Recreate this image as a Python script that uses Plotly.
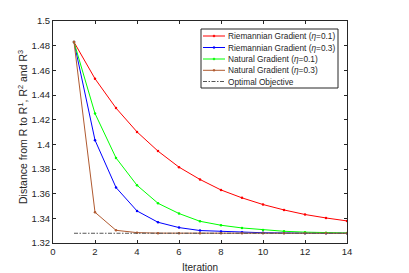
import plotly.graph_objects as go

iterations = list(range(1, 15))
rg_01 = [1.4829, 1.4532, 1.4294, 1.4101, 1.3945, 1.3815, 1.3715, 1.3630, 1.3566, 1.3512, 1.3468, 1.3431, 1.3403, 1.3379]
rg_03 = [1.4829, 1.4034, 1.3650, 1.3460, 1.3368, 1.3325, 1.3301, 1.3293, 1.3287, 1.3283, 1.3281, 1.3280, 1.3279, 1.3279]
ng_01 = [1.4829, 1.4250, 1.3890, 1.3668, 1.3522, 1.3439, 1.3376, 1.3344, 1.3322, 1.3306, 1.3295, 1.3288, 1.3284, 1.3281]
ng_03 = [1.4829, 1.3449, 1.3303, 1.3284, 1.3280, 1.3279, 1.3279, 1.3279, 1.3279, 1.3279, 1.3279, 1.3279, 1.3279, 1.3279]
optimal_x = [1, 14]
optimal_y = [1.3279, 1.3279]

series_names = ["Riemannian Gradient (<i>η</i>=0.1)", "Riemannian Gradient (<i>η</i>=0.3)",
                "Natural Gradient (<i>η</i>=0.1)", "Natural Gradient (<i>η</i>=0.3)", "Optimal Objective"]
series_colors = ["#ff0000", "#0000ff", "#00ff00", "#b05a30", "#555555"]
series_values = [rg_01, rg_03, ng_01, ng_03]

x_ticks = [0, 2, 4, 6, 8, 10, 12, 14]
y_ticks = [1.32, 1.34, 1.36, 1.38, 1.40, 1.42, 1.44, 1.46, 1.48, 1.50]
y_ticktext = ["1.32", "1.34", "1.36", "1.38", "1.4", "1.42", "1.44", "1.46", "1.48", "1.5"]

W, H = 409, 273
L, R, T, B = 53, 347, 21, 243
OPT_DASH = "4px,1.5px,1.5px,1.5px"

fig = go.Figure()
for name, color, vals in zip(series_names, series_colors, series_values):
    fig.add_trace(go.Scatter(x=iterations, y=vals, mode="lines+markers", name=name,
                             line=dict(color=color, width=1), marker=dict(color=color, size=2.5),
                             showlegend=False))
fig.add_trace(go.Scatter(x=optimal_x, y=optimal_y, mode="lines", name=series_names[4],
                         line=dict(color=series_colors[4], width=1, dash=OPT_DASH), showlegend=False))

def px(xpix):
    return (xpix - L) / (R - L)

def py(ypix):
    return (B - ypix) / (B - T)

shapes = []
annotations = []
# legend box
shapes.append(dict(type="rect", xref="paper", yref="paper", x0=px(201), x1=px(338), y0=py(88), y1=py(29),
                   line=dict(color="#262626", width=1), fillcolor="white", layer="above"))
row_y = [36, 47.5, 59, 70.3, 81.5]
for i, (name, color) in enumerate(zip(series_names, series_colors)):
    yy = py(row_y[i])
    shapes.append(dict(type="line", xref="paper", yref="paper", x0=px(203), x1=px(225), y0=yy, y1=yy,
                       line=dict(color=color, width=1, dash=OPT_DASH if i == 4 else "solid"), layer="above"))
    if i < 4:
        shapes.append(dict(type="circle", xref="paper", yref="paper", x0=px(213), x1=px(215),
                           y0=yy - 1 / (B - T), y1=yy + 1 / (B - T),
                           line=dict(color=color, width=0.5), fillcolor=color, layer="above"))
    annotations.append(dict(xref="paper", yref="paper", x=px(226), y=yy, xanchor="left", yanchor="middle",
                            text=name, showarrow=False, font=dict(size=8.3, color="#262626")))

annotations.append(dict(xref="paper", yref="paper", x=0.5, y=py(267), xanchor="center", yanchor="middle",
                        text="Iteration", showarrow=False, font=dict(size=10, color="#262626")))
annotations.append(dict(xref="paper", yref="paper", x=px(22), y=py(127), xanchor="center", yanchor="middle",
                        text="Distance from R to R<sup>1</sup>, R<sup>2</sup> and R<sup>3</sup>",
                        textangle=-90, showarrow=False, font=dict(size=10.5, color="#262626")))

fig.update_layout(
    width=W, height=H,
    margin=dict(l=L, r=W - R, t=T, b=H - B),
    paper_bgcolor="white", plot_bgcolor="white",
    font=dict(family="Liberation Sans, Arial, sans-serif", size=9.5, color="#262626"),
    shapes=shapes, annotations=annotations, showlegend=False,
)
fig.update_xaxes(range=[0, 14], tickvals=x_ticks, ticks="inside", ticklen=3, tickcolor="#262626",
                 showline=True, linecolor="#262626", linewidth=1, mirror="ticks", showgrid=False,
                 zeroline=False, tickfont=dict(size=9.5))
fig.update_yaxes(range=[1.32, 1.5], tickvals=y_ticks, ticktext=y_ticktext, ticks="inside", ticklen=3,
                 tickcolor="#262626", showline=True, linecolor="#262626", linewidth=1, mirror="ticks",
                 showgrid=False, zeroline=False, tickfont=dict(size=9.5))

fig.write_html("out.html", config={"displayModeBar": False},
               post_script="document.body.style.margin='0';document.body.style.overflow='hidden';")
